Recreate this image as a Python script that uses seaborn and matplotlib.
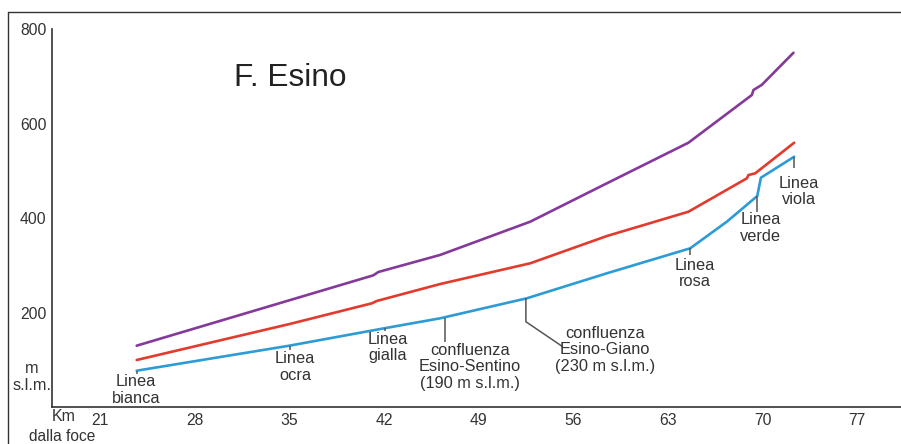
import numpy as np
import pandas as pd
import matplotlib
matplotlib.use("Agg")
import matplotlib.pyplot as plt
from matplotlib.lines import Line2D
from matplotlib.ticker import FixedLocator
import seaborn as sns

# ---------------- data ----------------
purple_x = [23.71, 41.21, 41.58, 46.15, 52.81, 58.48, 64.51, 69.20, 69.32, 69.94, 72.28]
purple_y = [130.3, 279.1, 286.1, 322.2, 392.5, 473.7, 559.5, 660.4, 671.0, 682.0, 749.8]

red_x = [23.71, 35.0, 41.10, 41.46, 46.15, 52.81, 58.48, 64.51, 68.83, 68.95, 69.45, 72.33]
red_y = [100.0, 176.0, 219.9, 224.8, 260.7, 304.5, 362.2, 413.6, 484.2, 491.2, 494.8, 559.5]

blue_x = [23.71, 35.0, 42.0, 46.15, 52.56, 58.48, 64.64, 67.35, 69.60, 69.87, 72.33]
blue_y = [77.4, 130.3, 167.0, 188.2, 230.5, 283.4, 336.2, 392.5, 446.8, 485.5, 529.9]

x_ticks = [21, 28, 35, 42, 49, 56, 63, 70, 77]
y_ticks = [200, 400, 600, 800]

labels = ["Linea\nbianca", "Linea\nocra", "Linea\ngialla",
          "confluenza\nEsino-Sentino\n(190 m s.l.m.)",
          "confluenza\nEsino-Giano\n(230 m s.l.m.)",
          "Linea\nrosa", "Linea\nverde", "Linea\nviola"]
label_x = [23.67, 35.42, 42.28, 48.37, 58.35, 65.0, 69.87, 72.65]
label_y = [36.8, 85.2, 126.9, 85.9, 121.2, 283.4, 379.0, 456.8]

# leader lines (x list, y list) for each label
leader_x = [[23.71, 23.71], [35.05, 35.05], [42.08, 42.08], [46.51, 46.51],
            [52.49, 52.49, 55.22], [64.64, 64.64], [69.60, 69.60], [72.33, 72.33]]
leader_y = [[77.4, 70.4], [130.5, 121.0], [168.0, 162.0], [189.0, 138.7],
            [231.0, 181.0, 128.0], [336.2, 322.0], [446.8, 413.6], [529.9, 505.0]]

series_names = ["viola", "rosso", "azzurro"]
colors = ["#85399a", "#e23b2e", "#2d9bd6"]

df = pd.concat([
    pd.DataFrame({"km": purple_x, "quota": purple_y, "serie": series_names[0]}),
    pd.DataFrame({"km": red_x, "quota": red_y, "serie": series_names[1]}),
    pd.DataFrame({"km": blue_x, "quota": blue_y, "serie": series_names[2]}),
], ignore_index=True)

# ---------------- figure ----------------
sns.set_theme(style="white")
plt.rcParams["font.family"] = ["Liberation Sans", "DejaVu Sans"]

fig = plt.figure(figsize=(9.01, 4.44), dpi=100)
ax = fig.add_axes([52.3 / 901, 36.7 / 444, 1 - 52.3 / 901, 378.3 / 444])

sns.lineplot(data=df, x="km", y="quota", hue="serie",
             palette=dict(zip(series_names, colors)),
             estimator=None, sort=False, linewidth=1.9, legend=False, ax=ax)

for lx, ly in zip(leader_x, leader_y):
    ax.plot(lx, ly, color="#555555", linewidth=1.1, solid_capstyle="butt")

for t, x, y in zip(labels, label_x, label_y):
    ax.text(x, y, t, ha="center", va="center", fontsize=11.8,
            linespacing=1.13, color="#333333")

ax.text(35.05, 696.7, "F. Esino", ha="center", va="center", fontsize=22.8,
        color="#222222")

ax.set_xlim(17.47, 80.23)
ax.set_ylim(0, 800)
ax.xaxis.set_major_locator(FixedLocator(x_ticks))
ax.xaxis.set_minor_locator(FixedLocator([v + 3.5 for v in x_ticks]))
ax.yaxis.set_major_locator(FixedLocator(y_ticks))
ax.yaxis.set_minor_locator(FixedLocator([100, 300, 500, 700]))

ax.set_xlabel("")
ax.set_ylabel("")
for s in ["top", "right"]:
    ax.spines[s].set_visible(False)
for s in ["left", "bottom"]:
    ax.spines[s].set_color("#333333")
    ax.spines[s].set_linewidth(1.2)

ax.tick_params(axis="both", which="major", direction="out", length=4, width=1,
               color="#333333", labelsize=11.3, labelcolor="#333333", pad=1)
ax.tick_params(axis="both", which="minor", direction="out", length=3, width=1,
               color="#333333")
ax.tick_params(axis="y", which="major", pad=0)
ax.tick_params(axis="x", which="major", pad=0)

ax.text(15.95, 64, "m\ns.l.m.", ha="center", va="center", fontsize=11.8,
        linespacing=1.15, color="#333333", clip_on=False)
ax.text(18.34, -20.5, "Km", ha="center", va="center", fontsize=11.5,
        color="#333333", clip_on=False)
ax.text(18.2, -62.0, "dalla foce", ha="center", va="center", fontsize=11.2,
        color="#333333", clip_on=False)

# outer frame (left and top edges)
fx = 8.3 / 901
fy = 1 - 12 / 444
fig.add_artist(Line2D([fx, fx], [0, fy], transform=fig.transFigure,
                      color="#333333", linewidth=1.0))
fig.add_artist(Line2D([fx, 1], [fy, fy], transform=fig.transFigure,
                      color="#333333", linewidth=1.0))

fig.savefig("out.png", dpi=100)
